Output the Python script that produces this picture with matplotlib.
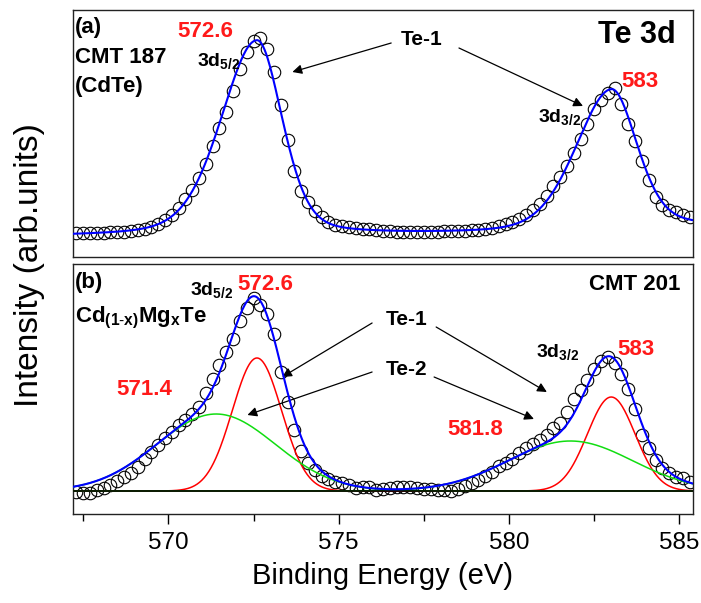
import numpy as np
import matplotlib
matplotlib.use("Agg")
import matplotlib.pyplot as plt
from matplotlib.ticker import MultipleLocator

plt.rcParams['font.family'] = ['Liberation Sans', 'DejaVu Sans']
plt.rcParams['mathtext.fontset'] = 'custom'
plt.rcParams['mathtext.rm'] = 'Liberation Sans'
plt.rcParams['mathtext.bf'] = 'Liberation Sans:bold'

# measured spectra, 0.2 eV step
energy = np.round(np.arange(567.3, 585.31, 0.2), 1)

cdte = [24, 24, 24, 24, 24, 24.5, 25, 25, 26, 27,
        28, 30, 33, 37, 42, 49, 58, 67, 79, 93,
        111, 129, 145, 166, 188, 205, 216, 219, 208, 185,
        152, 117, 86, 66, 55, 46, 40, 35, 32, 31,
        30, 29, 28, 28, 27, 26, 26, 25, 25, 25,
        25, 25, 25, 25, 25.5, 26, 26, 26, 26.5, 27,
        28, 29, 31, 33, 35, 38, 42, 47, 53, 61,
        71, 80, 91, 104, 118, 133, 148, 157, 164, 169,
        153, 133, 116, 96, 77, 60, 52, 47, 45, 42, 40]

cdmgte = [22, 21, 21, 24, 26, 29, 33, 37, 41, 47,
          55, 62, 69, 76, 82, 89, 94, 100, 107, 121,
          135, 149, 162, 175, 193, 206, 216, 209, 200, 180,
          142, 112, 84, 63, 51, 44, 38, 35, 32, 31,
          29, 26, 27, 27, 24, 25, 26, 27, 27, 27,
          26, 25, 25, 24, 24, 23, 25, 28, 31, 34,
          38, 42, 48, 51, 55, 61, 66, 70, 74, 79,
          86, 91, 102, 115, 124, 134, 145, 153, 157, 151,
          140, 125, 105, 79, 66, 54, 46, 41, 37, 36, 32]

# fit parameters, panel (a): centre, height, left/right HWHM
a_centers = [572.6, 583.0]
a_heights = [195, 140]
a_hwhm_left = [1.25, 1.25]
a_hwhm_right = [0.87, 0.88]
a_eta = 0.3
a_bg0 = 20
a_steps = [2, 9]

# fit parameters, panel (b): Te-1 (red) and Te-2 (green) gaussians
te1_centers = [572.6, 583.0]
te1_heights = [133, 94]
te1_fwhm = [1.7, 1.65]
te2_centers = [571.4, 581.8]
te2_heights = [77, 50]
te2_fwhm = [4.1, 4.3]
b_base = 23

xf = np.linspace(567.2, 585.4, 800)


def split_pv(e, c, h, wl, wr, eta):
    w = np.where(e < c, wl, wr)
    x = (e - c) / w
    return h * ((1 - eta) * np.exp(-np.log(2) * x ** 2) + eta / (1 + x ** 2))


def gauss(e, c, h, fwhm):
    return h * np.exp(-4 * np.log(2) * ((e - c) / fwhm) ** 2)


# panel (a) envelope with shirley-like steps
fit_a = np.zeros_like(xf)
bg_a = np.full_like(xf, a_bg0, dtype=float)
for c, h, wl, wr, s in zip(a_centers, a_heights, a_hwhm_left, a_hwhm_right, a_steps):
    p = split_pv(xf, c, h, wl, wr, a_eta)
    fit_a += p
    cs = np.cumsum(p)
    bg_a += s * cs / cs[-1]
fit_a += bg_a

# panel (b) components
red = [gauss(xf, c, h, w) for c, h, w in zip(te1_centers, te1_heights, te1_fwhm)]
green = [gauss(xf, c, h, w) for c, h, w in zip(te2_centers, te2_heights, te2_fwhm)]
fit_b = b_base + sum(red) + sum(green)

fig = plt.figure(figsize=(7.01, 6.03), dpi=100)
ax1 = fig.add_axes([73 / 701, 1 - 257 / 603, 620 / 701, 247 / 603])
ax2 = fig.add_axes([73 / 701, 1 - 514 / 603, 620 / 701, 250 / 603])

mk = dict(ls='none', marker='o', ms=9, mfc='none', mec='black', mew=0.8, zorder=2)

ax1.plot(energy, cdte, **mk)
ax1.plot(xf, fit_a, color='#0000ff', lw=1.5, zorder=3)

ax2.plot(energy, cdmgte, **mk)
for r in red:
    ax2.plot(xf, b_base + r, color='#ff0000', lw=1.1, zorder=3)
for g in green:
    ax2.plot(xf, b_base + g, color='#11dd11', lw=1.1, zorder=3)
ax2.plot(xf, np.full_like(xf, b_base), color='black', lw=1.2, zorder=3.5)
ax2.plot(xf, fit_b, color='#0000ff', lw=1.5, zorder=4)

for ax, top in ((ax1, 247), (ax2, 250)):
    ax.set_xlim(567.2, 585.4)
    ax.set_ylim(0, top)
    ax.set_yticks([])
    for sp in ax.spines.values():
        sp.set_linewidth(1.0)
        sp.set_color('#222222')

ax1.set_xticks([])
ax2.xaxis.set_major_locator(MultipleLocator(5))
ax2.xaxis.set_minor_locator(MultipleLocator(2.5))
ax2.tick_params(axis='x', which='major', direction='out', length=7, width=1.0,
                labelsize=17.5, pad=6)
ax2.tick_params(axis='x', which='minor', direction='out', length=5, width=1.0)
ax2.set_xlabel('Binding Energy (eV)', fontsize=21, labelpad=6)
fig.text(30 / 701, 1 - 265 / 603, 'Intensity (arb.units)', rotation=90,
         ha='center', va='center', fontsize=24)

bold = dict(fontweight='bold', va='baseline')
red_txt = dict(fontweight='bold', va='baseline', color='#ff1a1a', fontsize=16)

# panel (a) labels
ax1.text(567.25, 224, '(a)', fontsize=16, **bold)
ax1.text(567.25, 194, 'CMT 187', fontsize=16, **bold)
ax1.text(567.25, 165, '(CdTe)', fontsize=16, **bold)
ax1.text(584.9, 214, 'Te 3d', fontsize=22, ha='right', **bold)
ax1.text(570.26, 220, '572.6', **red_txt)
ax1.text(583.31, 170, '583', **red_txt)
ax1.text(570.84, 191, r'$\mathbf{3d_{5/2}}$', fontsize=14, **bold)
ax1.text(580.85, 135, r'$\mathbf{3d_{3/2}}$', fontsize=14, **bold)
ax1.text(576.83, 212, 'Te-1', fontsize=15, **bold)

arrow = dict(arrowstyle='-|>', color='black', lw=0.9, mutation_scale=14,
             shrinkA=0, shrinkB=0)
ax1.annotate('', xy=(573.64, 185), xytext=(576.54, 214), arrowprops=arrow)
ax1.annotate('', xy=(582.17, 151), xytext=(578.53, 209), arrowprops=arrow)

# panel (b) labels
ax2.text(567.25, 226, '(b)', fontsize=16, **bold)
ax2.text(567.25, 192, r'$\mathbf{Cd_{(1\text{-}x)}Mg_{x}Te}$', fontsize=16, **bold)
ax2.text(585.04, 224, 'CMT 201', fontsize=16, ha='right', **bold)
ax2.text(570.62, 219, r'$\mathbf{3d_{5/2}}$', fontsize=14, **bold)
ax2.text(580.79, 157, r'$\mathbf{3d_{3/2}}$', fontsize=14, **bold)
ax2.text(572.02, 224, '572.6', **red_txt)
ax2.text(568.48, 119, '571.4', **red_txt)
ax2.text(583.17, 159, '583', **red_txt)
ax2.text(578.18, 79, '581.8', **red_txt)
ax2.text(576.39, 189, 'Te-1', fontsize=15, **bold)
ax2.text(576.39, 139, 'Te-2', fontsize=15, **bold)

ax2.annotate('', xy=(573.34, 137), xytext=(575.98, 191), arrowprops=arrow)
ax2.annotate('', xy=(572.32, 99), xytext=(575.98, 142), arrowprops=arrow)
ax2.annotate('', xy=(581.11, 122), xytext=(577.86, 187), arrowprops=arrow)
ax2.annotate('', xy=(580.73, 95), xytext=(577.80, 137), arrowprops=arrow)

fig.savefig('out.png', dpi=100)
